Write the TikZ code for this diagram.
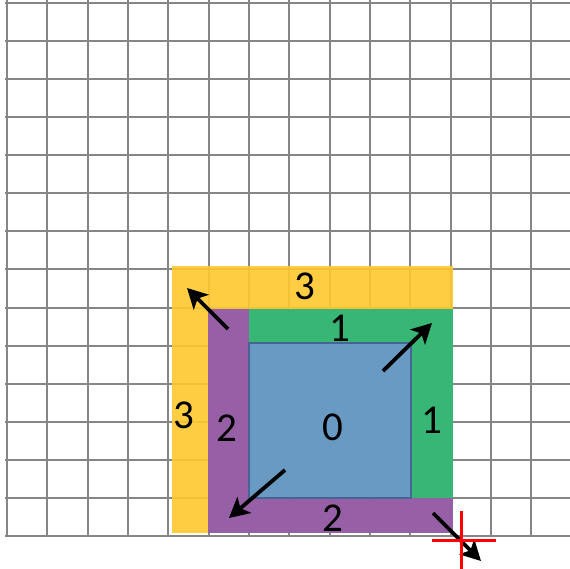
\documentclass[tikz,border=0pt]{standalone}
\usepackage{fontspec}
\setmainfont{Carlito}
\definecolor{ringyellow}{RGB}{255, 200, 45}
\definecolor{ringpurple}{RGB}{140, 85, 178}
\definecolor{ringgreen}{RGB}{45, 192, 112}
\definecolor{ringblue}{RGB}{110, 152, 204}
\definecolor{ringblueline}{RGB}{70, 100, 150}
\usetikzlibrary{arrows.meta}

\begin{document}
\begin{tikzpicture}[x=1pt, y=-1pt,
    gridline/.style={draw=gray!95, line width=2pt},
    ringfill/.style={fill opacity=0.9},
    ringlabel/.style={font=\fontsize{41}{45}\selectfont, inner sep=0pt},
    movearrow/.style={-{Stealth[length=20pt, width=21pt, inset=5pt]}, line width=3.8pt}]
        \useasboundingbox (0,0) rectangle (570,569);

        % Grid
        \foreach \i in {0,...,13}
            \draw[gridline] ({7+40.32*\i},0) -- ({7+40.32*\i},536);
        \foreach \j in {0,...,14}
            \draw[gridline] (5,{3+38.07*\j}) -- (570,{3+38.07*\j});

        % Rings
        \fill[ringyellow, ringfill] (172,266) rectangle (453,533);
        \fill[ringpurple, ringfill] (208,309) rectangle (453,533);
        \fill[ringgreen, ringfill] (249,309) rectangle (453,498);
        \filldraw[fill=ringblue, draw=ringblueline, ringfill, line width=1.2pt] (249,343) rectangle (411,498);

        % Labels
        \node[ringlabel] (top3) at (305,286) {3};
        \node[ringlabel] (left3) at (184,415) {3};
        \node[ringlabel] (left2) at (227,428) {2};
        \node[ringlabel] (bot2) at (333,518) {2};
        \node[ringlabel] (top1) at (340,328) {1};
        \node[ringlabel] (right1) at (432,420) {1};
        \node[ringlabel] (mid0) at (333,427) {0};

        % Arrows
        \coordinate (nwfrom) at (228,329);
        \coordinate (nwto) at (187,288);
        \coordinate (nefrom) at (383,371);
        \coordinate (neto) at (432,323);
        \coordinate (swfrom) at (285,470);
        \coordinate (swto) at (229,518);
        \coordinate (sefrom) at (433,513);
        \coordinate (seto) at (481,561);
        \draw[movearrow] (nwfrom) -- (nwto);
        \draw[movearrow] (nefrom) -- (neto);
        \draw[movearrow] (swfrom) -- (swto);
        \draw[movearrow] (sefrom) -- (seto);

        % Origin mark
        \coordinate (origin) at (461,540);
        \draw[red, line width=3pt] ([yshift=-35pt]origin) -- ([yshift=29pt]origin);
        \draw[red, line width=3pt] ([xshift=-29pt]origin) -- ([xshift=35pt]origin);
    \end{tikzpicture}
\end{document}
